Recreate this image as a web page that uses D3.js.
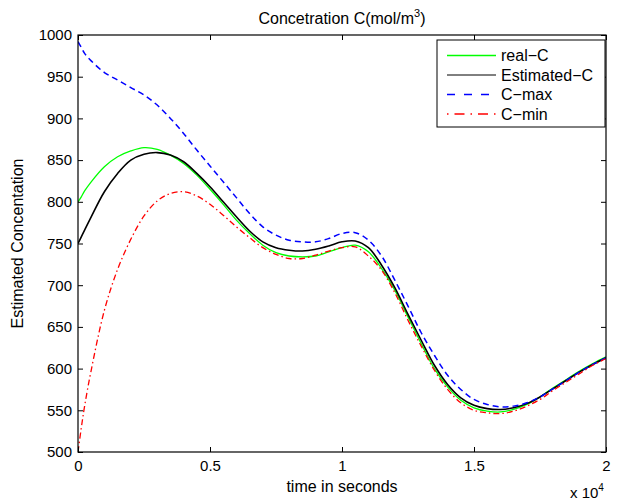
<!DOCTYPE html>
<html>
<head>
<meta charset="utf-8">
<script src="https://cdn.jsdelivr.net/npm/d3@7"></script>
<style>
  html, body { margin: 0; padding: 0; background: #fff; }
  svg { display: block; font-family: "Liberation Sans", Arial, Helvetica, sans-serif; }
</style>
</head>
<body>
<svg id="chart" width="624" height="504"></svg>
<script>
// ---- data ----
const timeSec = [0, 125, 250, 500, 1000, 1500, 2000, 2500, 3000, 3500, 4000, 4500, 5000, 5500, 6000, 6500, 7000, 7500, 8000, 8500, 9000, 9500, 10000, 10500, 11000, 11500, 12000, 12500, 13000, 13500, 14000, 14500, 15000, 15500, 16000, 16500, 17000, 17500, 18000, 18500, 19000, 19500, 20000];
const realC = [800, 806, 813, 824, 842, 854, 861, 865, 863, 856, 846, 832, 815, 797, 778, 762, 748, 739, 735, 734, 735, 740, 745, 748, 740, 720, 694, 662, 630, 600, 578, 562, 553, 549, 548, 551, 557, 566, 577, 587, 597, 606, 614];
const estimatedC = [750, 758, 766, 782, 812, 834, 850, 857, 859, 856, 848, 834, 818, 800, 782, 765, 752, 745, 742, 741, 743, 747, 752, 753, 745, 724, 697, 665, 634, 604, 581, 565, 556, 552, 551, 553, 558, 566, 576, 586, 596, 605, 613];
const cMax = [992, 985, 978, 969, 955, 946, 937, 928, 916, 900, 882, 862, 843, 824, 805, 786, 770, 760, 754, 752, 752, 756, 762, 763, 754, 735, 706, 675, 643, 616, 592, 575, 563, 557, 554, 555, 559, 566, 576, 586, 596, 605, 613];
const cMin = [500, 529, 555, 598, 670, 719, 755, 783, 801, 810, 812, 807, 797, 784, 770, 757, 745, 737, 732, 732, 736, 741, 745, 746, 735, 718, 691, 658, 627, 598, 575, 559, 550, 547, 546, 549, 555, 563, 574, 584, 594, 604, 612];

const xTicks = [0, 5000, 10000, 15000, 20000];
const xTickLabels = ["0", "0.5", "1", "1.5", "2"];
const yTicks = [500, 550, 600, 650, 700, 750, 800, 850, 900, 950, 1000];

const seriesNames = ["real\u2212C", "Estimated\u2212C", "C\u2212max", "C\u2212min"];
const seriesValues = [realC, estimatedC, cMax, cMin];

// ---- styles ----
const styles = [
  { color: "#00ff00", width: 1.3, dash: null },
  { color: "#000000", width: 1.6, dash: null },
  { color: "#0000ff", width: 1.5, dash: "6,4" },
  { color: "#ff0000", width: 1.3, dash: "6,3,1.5,3" }
];

const svg = d3.select("#chart");
const m = { left: 78, top: 35, right: 624 - 606, bottom: 504 - 452 };
const W = 624 - m.left - m.right, H = 504 - m.top - m.bottom;

const x = d3.scaleLinear().domain([0, 20000]).range([0, W]);
const y = d3.scaleLinear().domain([500, 1000]).range([H, 0]);

const g = svg.append("g").attr("transform", `translate(${m.left},${m.top})`);

svg.append("defs").append("clipPath").attr("id", "clip")
  .append("rect").attr("width", W).attr("height", H);

// lines
const line = d3.line().x((d, i) => x(timeSec[i])).y(d => y(d)).curve(d3.curveCatmullRom.alpha(0.5));
const lines = g.append("g").attr("clip-path", "url(#clip)");
seriesValues.forEach((vals, k) => {
  lines.append("path")
    .attr("d", line(vals))
    .attr("fill", "none")
    .attr("stroke", styles[k].color)
    .attr("stroke-width", styles[k].width)
    .attr("stroke-dasharray", styles[k].dash);
});

// axes
const tickFont = 15, textFont = 16;
const xAxis = d3.axisBottom(x).tickValues(xTicks).tickFormat((d, i) => xTickLabels[i]).tickSizeInner(-5).tickSizeOuter(0).tickPadding(8);
const xAxisTop = d3.axisTop(x).tickValues(xTicks).tickFormat("").tickSizeInner(-5).tickSizeOuter(0);
const yAxis = d3.axisLeft(y).tickValues(yTicks).tickFormat(d3.format("d")).tickSizeInner(-5).tickSizeOuter(0).tickPadding(6);
const yAxisRight = d3.axisRight(y).tickValues(yTicks).tickFormat("").tickSizeInner(-5).tickSizeOuter(0);

function styleAxis(sel) {
  sel.select(".domain").remove();
  sel.selectAll("line").attr("stroke", "#000").attr("stroke-width", 1);
  sel.selectAll("text").attr("fill", "#000").style("font-size", tickFont + "px")
    .style("font-family", '"Liberation Sans", Arial, sans-serif');
}
g.append("g").attr("transform", `translate(0,${H})`).call(xAxis).call(styleAxis);
g.append("g").call(xAxisTop).call(styleAxis);
g.append("g").call(yAxis).call(styleAxis);
g.append("g").attr("transform", `translate(${W},0)`).call(yAxisRight).call(styleAxis);

// frame
g.append("rect").attr("width", W).attr("height", H).attr("fill", "none").attr("stroke", "#000").attr("stroke-width", 1.2);

// title
const title = svg.append("text").attr("x", m.left + W / 2).attr("y", 24).attr("text-anchor", "middle")
  .style("font-size", textFont + "px").attr("fill", "#000");
title.append("tspan").text("Concetration C(mol/m");
title.append("tspan").attr("dy", -7).style("font-size", "11px").text("3");
title.append("tspan").attr("dy", 7).text(")");

// x label
svg.append("text").attr("x", m.left + W / 2).attr("y", 492).attr("text-anchor", "middle")
  .style("font-size", textFont + "px").attr("fill", "#000").text("time in seconds");

// exponent
const ex = svg.append("text").attr("x", 570).attr("y", 498).style("font-size", tickFont + "px").attr("fill", "#000");
ex.append("tspan").text("x 10");
ex.append("tspan").attr("dy", -7).style("font-size", "10px").text("4");

// y label
svg.append("text").attr("transform", `translate(23,${m.top + H / 2}) rotate(-90)`).attr("text-anchor", "middle")
  .style("font-size", textFont + "px").attr("fill", "#000").text("Estimated Concentation");

// legend
const lg = svg.append("g").attr("transform", "translate(437,40)");
lg.append("rect").attr("width", 168).attr("height", 87).attr("fill", "#fff").attr("stroke", "#000").attr("stroke-width", 1);
seriesNames.forEach((name, k) => {
  const yy = 15.5 + k * 19.5;
  lg.append("line").attr("x1", 10).attr("x2", 59).attr("y1", yy).attr("y2", yy)
    .attr("stroke", styles[k].color).attr("stroke-width", k === 1 ? 1 : styles[k].width)
    .attr("stroke-dasharray", k === 2 ? "8,9" : (k === 3 ? "1.5,6,10,6" : null));
  lg.append("text").attr("x", 64).attr("y", yy + 5.5).style("font-size", textFont + "px").attr("fill", "#000").text(name);
});
</script>
</body>
</html>
